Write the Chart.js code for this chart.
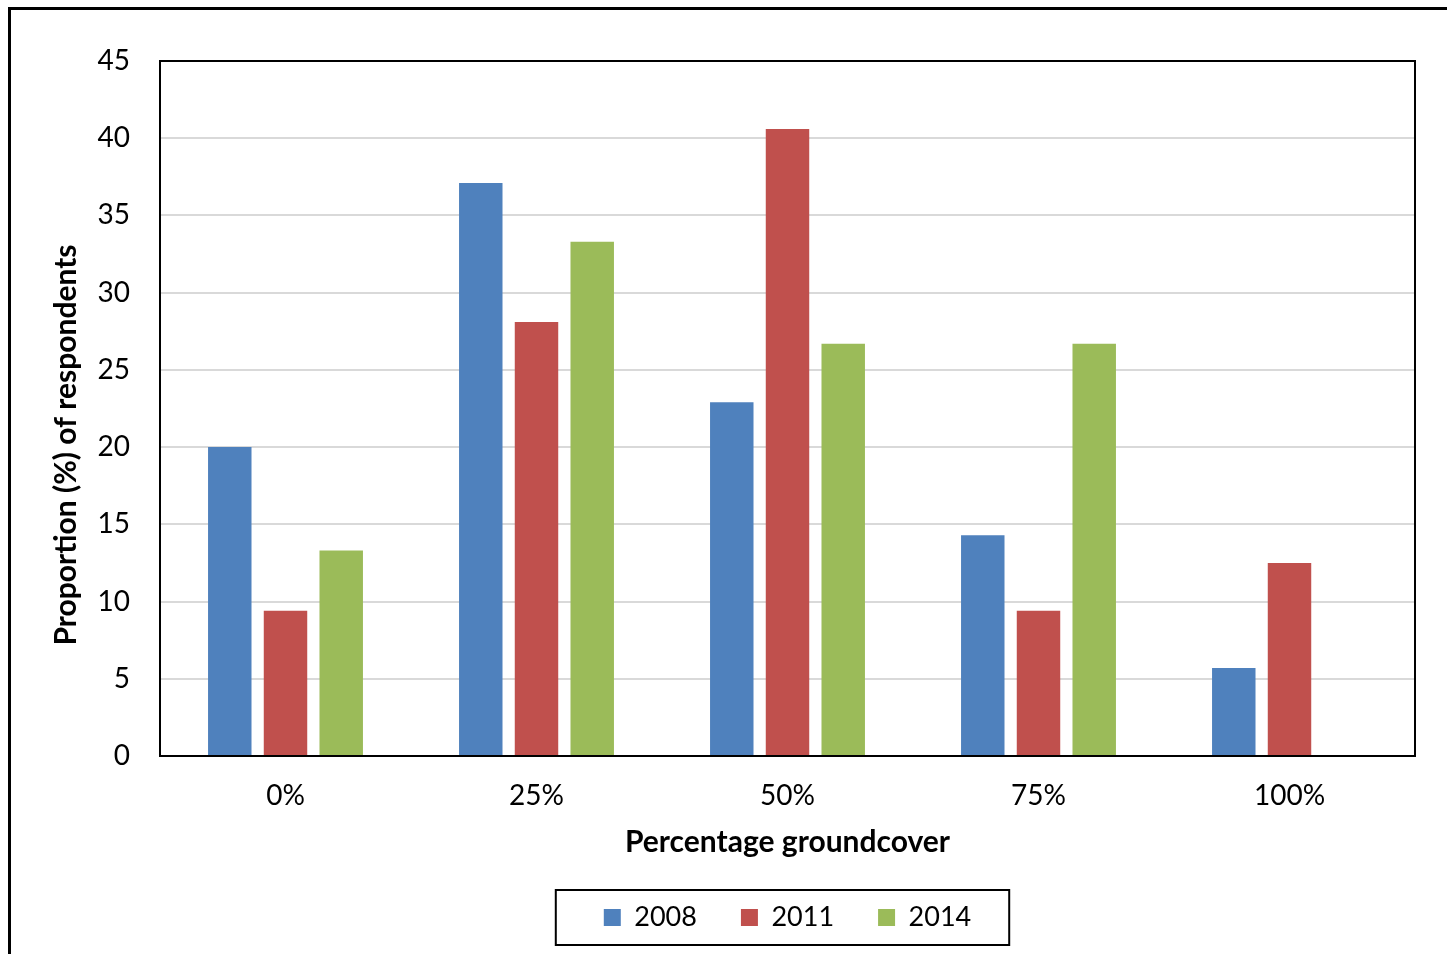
<!DOCTYPE html>
<html lang="en">
<head>
<meta charset="UTF-8">
<title>Percentage groundcover</title>
<style>
  html, body { margin: 0; padding: 0; background: #fff; }
  #wrap { position: relative; width: 1447px; height: 954px; }
</style>
</head>
<body>
<div id="wrap"><canvas id="chart"></canvas></div>
<script src="https://cdn.jsdelivr.net/npm/chart.js@4/dist/chart.umd.min.js"></script>
<script>
// valores
const categorias = ['0%', '25%', '50%', '75%', '100%'];
const anos = ['2008', '2011', '2014'];
const v2008 = [20, 37.1, 22.9, 14.3, 5.7];
const v2011 = [9.4, 28.1, 40.6, 9.4, 12.5];
const v2014 = [13.3, 33.3, 26.7, 26.7, 0];
const yTicks = [0, 5, 10, 15, 20, 25, 30, 35, 40, 45];

const cores = ['#4F81BD', '#C0504D', '#9BBB59'];
const fonte = 'Lato, "Open Sans", sans-serif';

// moldura externa, borda do gráfico, título do eixo y e caixa da legenda
const molduras = {
    id: 'molduras',
    beforeDraw(chart) {
        const c = chart.ctx;
        c.save();
        c.fillStyle = '#fff';
        c.fillRect(0, 0, chart.width, chart.height);
        c.strokeStyle = '#000';
        c.lineWidth = 3;
        c.beginPath();
        c.moveTo(9.5, chart.height + 5);
        c.lineTo(9.5, 8.5);
        c.lineTo(chart.width + 5, 8.5);
        c.stroke();
        c.restore();
    },
    afterDatasetsDraw(chart) {
        const a = chart.chartArea;
        const c = chart.ctx;
        c.save();
        c.strokeStyle = '#000';
        c.lineWidth = 2;
        c.strokeRect(a.left, a.top, a.right - a.left, a.bottom - a.top);
        c.restore();
    },
    afterDraw(chart) {
        const c = chart.ctx;
        c.save();
        c.fillStyle = '#000';
        c.font = 'bold 30px ' + fonte;
        c.textAlign = 'center';
        c.textBaseline = 'middle';
        c.translate(66, 445);
        c.rotate(-Math.PI / 2);
        c.fillText('Proportion (%) of respondents', 0, 0);
        c.restore();

        const hb = chart.legend.legendHitBoxes;
        if (hb && hb.length) {
            const first = hb[0], last = hb[hb.length - 1];
            const meio = first.top + first.height / 2;
            c.save();
            c.strokeStyle = '#000';
            c.lineWidth = 2;
            c.strokeRect(first.left - 48, meio - 27.5, last.left + last.width + 38 - (first.left - 48), 55);
            c.restore();
        }
    }
};

const ctx = document.getElementById('chart').getContext('2d');
const grafico = new Chart(ctx, {
    type: 'bar',
    data: {
        labels: categorias,
        datasets: [
            { label: anos[0], data: v2008, backgroundColor: cores[0] },
            { label: anos[1], data: v2011, backgroundColor: cores[1] },
            { label: anos[2], data: v2014, backgroundColor: cores[2] }
        ]
    },
    options: {
        responsive: true,
        maintainAspectRatio: false,
        animation: false,
        categoryPercentage: 0.666,
        barPercentage: 0.78,
        layout: { padding: { top: 61, right: 32, bottom: 13, left: 40 } },
        plugins: {
            tooltip: { enabled: false },
            legend: {
                position: 'bottom',
                fullSize: false,
                labels: {
                    boxWidth: 17,
                    boxHeight: 17,
                    padding: 44,
                    color: '#000',
                    font: { family: fonte, size: 27 }
                }
            }
        },
        scales: {
            x: {
                grid: { display: false, drawTicks: false },
                border: { display: false },
                ticks: { color: '#000', padding: 23, font: { family: fonte, size: 28 } },
                title: {
                    display: true,
                    text: 'Percentage groundcover',
                    color: '#000',
                    padding: { top: 0, bottom: 0 },
                    font: { family: fonte, size: 30, weight: 'bold' }
                },
                afterFit(scale) { scale.height = 104; }
            },
            y: {
                min: 0,
                max: 45,
                afterBuildTicks(scale) { scale.ticks = yTicks.map(v => ({ value: v })); },
                grid: { color: '#d9d9d9', lineWidth: 2, drawTicks: false },
                border: { display: false },
                ticks: { color: '#000', padding: 30, font: { family: fonte, size: 28 } },
                afterFit(scale) { scale.width = 120; }
            }
        }
    },
    plugins: [molduras]
});
</script>
</body>
</html>
